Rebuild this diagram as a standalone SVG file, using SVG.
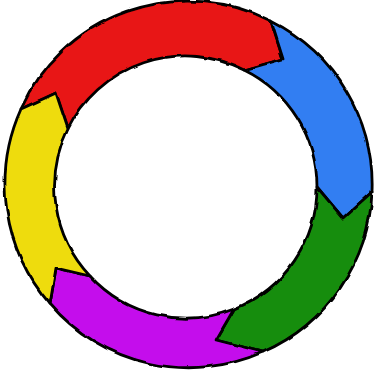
<svg xmlns="http://www.w3.org/2000/svg" width="374" height="372" viewBox="0 0 374 372">
  <defs>
    <filter id="rough" filterUnits="userSpaceOnUse" x="0" y="0" width="374" height="372">
      <feTurbulence type="fractalNoise" baseFrequency="0.07" numOctaves="1" seed="3" result="n"/>
      <feDisplacementMap in="SourceGraphic" in2="n" scale="3.5" xChannelSelector="R" yChannelSelector="G"/>
    </filter>
  </defs>
  <style>
    .seg { stroke: #000; stroke-width: 2.8; stroke-linejoin: round; }
    .red { fill: #E81212; }
    .blue { fill: #327EF2; }
    .green { fill: #178D0B; }
    .purple { fill: #C411EC; }
    .yellow { fill: #EEDC0C; }
  </style>
  <rect width="374" height="372" fill="#fff"/>
  <g filter="url(#rough)">
    <g id="red">
      <path class="seg red" d="M21,109 A183,183 0 0 1 271,21 L283,59 L244,70 A130.5,130.5 0 0 0 68,129 L56,93 Z"/>
    </g>
    <g id="blue">
      <path class="seg blue" d="M271,21 A183,183 0 0 1 372,192 L343,218 L317,187 A130.5,130.5 0 0 0 244,70 L283,59 Z"/>
    </g>
    <g id="green">
      <path class="seg green" d="M372,192 A183,183 0 0 1 263,352 L216,340 L234,309 A130.5,130.5 0 0 0 317,187 L343,218 Z"/>
    </g>
    <g id="purple">
      <path class="seg purple" d="M263,352 A183,183 0 0 1 50,304 L56,268 L90,276 A130.5,130.5 0 0 0 234,309 L216,340 Z"/>
    </g>
    <g id="yellow">
      <path class="seg yellow" d="M50,304 A183,183 0 0 1 21,109 L56,93 L68,129 A130.5,130.5 0 0 0 90,276 L56,268 Z"/>
    </g>
  </g>
  <g id="connectors"/>
</svg>
